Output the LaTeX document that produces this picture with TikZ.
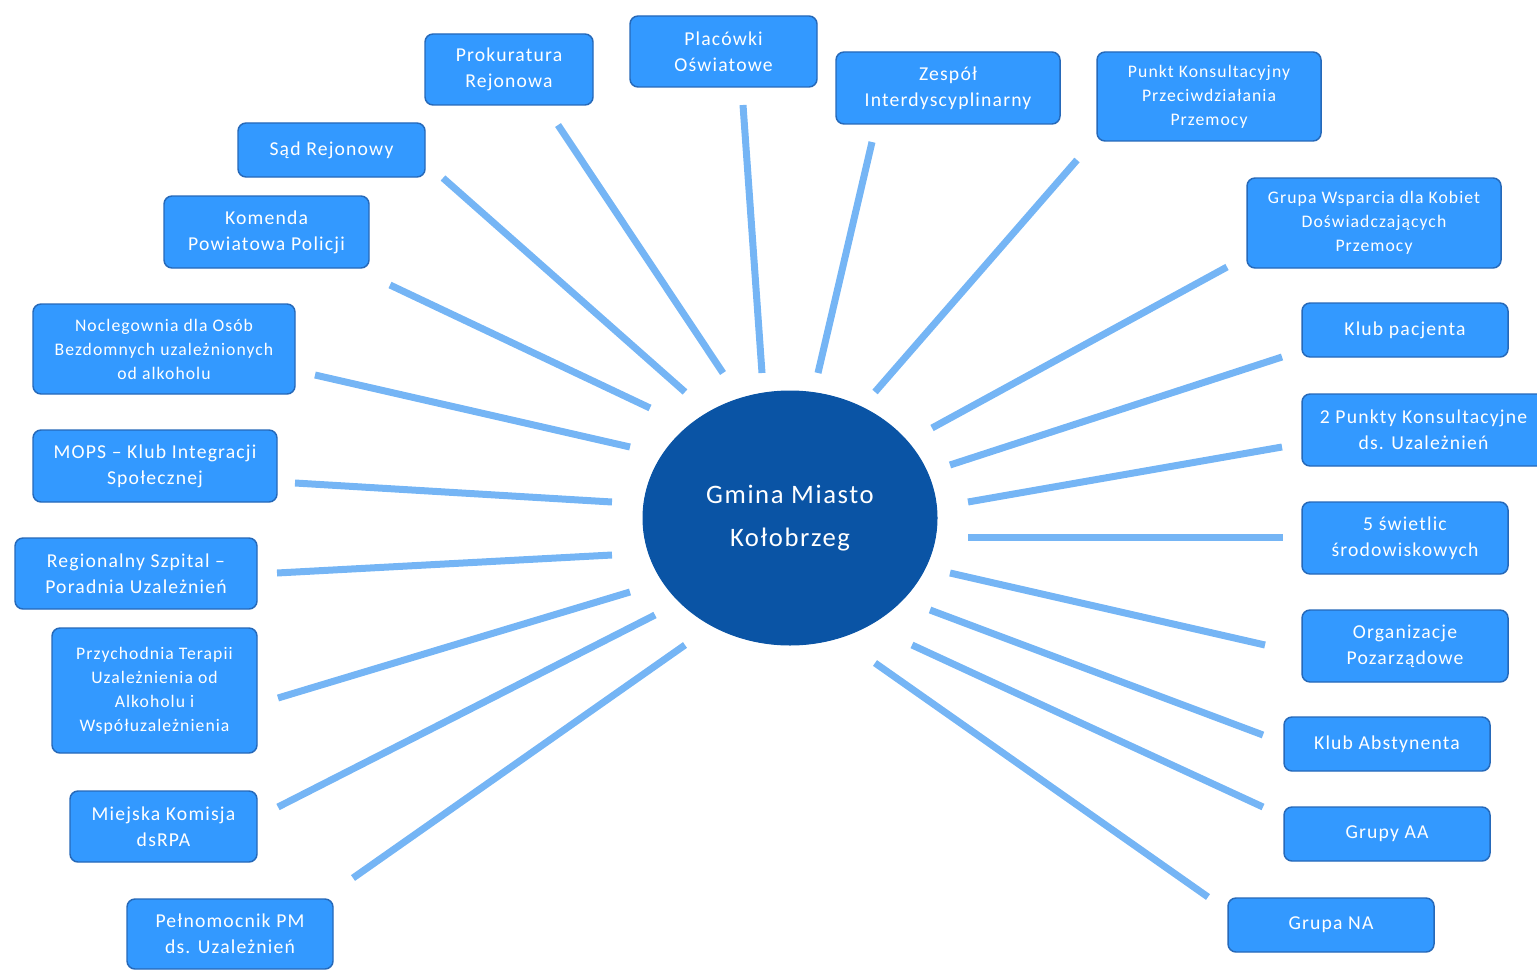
\documentclass[tikz,border=0pt]{standalone}
\usepackage{fontspec}
\setmainfont{Carlito}[LetterSpace=6]
\usetikzlibrary{shapes.geometric}

\definecolor{boxfill}{RGB}{51,153,255}
\definecolor{boxline}{RGB}{38,105,185}
\definecolor{hubfill}{RGB}{10,84,165}
\definecolor{spokeblue}{RGB}{117,181,245}

\tikzset{every picture/.style={line width=0.75pt}}
\tikzset{
  orgbox/.style={draw=boxline, fill=boxfill, rounded corners=6pt, line width=1.1pt,
    text=white, inner sep=0pt, align=center, font=\fontsize{14.75}{19.5}\selectfont},
  smallbox/.style={orgbox, font=\fontsize{13.25}{18}\selectfont},
  hub/.style={ellipse, fill=hubfill, draw=hubfill, text=white, inner sep=0pt,
    align=center, font=\fontsize{20}{32}\selectfont},
  spoke/.style={draw=spokeblue, line width=5.25pt}
}

\begin{document}
\begin{tikzpicture}[x=0.75pt,y=0.75pt,yscale=-1,xscale=1]
\useasboundingbox (0,0) rectangle (1537,970);
\clip (0,0) rectangle (1537,970);

%Shape: Ellipse [id:hub]
\node [hub, minimum width=220.5pt, minimum height=190.5pt] (gmina) at (790,518) {Gmina Miasto\\Kołobrzeg};

%Shape: Rectangle [id:left column]
\node [orgbox, minimum width=140.25pt, minimum height=40.5pt] (sad) at (331.5,150) {Sąd Rejonowy};
\node [orgbox, minimum width=153.75pt, minimum height=54pt] (komenda) at (266.5,232) {Komenda\\Powiatowa Policji};
\node [smallbox, minimum width=196.5pt, minimum height=67.5pt] (nocleg) at (164,349) {Noclegownia dla Osób\\Bezdomnych uzależnionych\\od alkoholu};
\node [orgbox, minimum width=183pt, minimum height=54pt] (mops) at (155,466) {MOPS – Klub Integracji\\Społecznej};
\node [orgbox, minimum width=181.5pt, minimum height=53.25pt] (szpital) at (136,573.5) {Regionalny Szpital –\\Poradnia Uzależnień};
\node [smallbox, minimum width=153.75pt, minimum height=93.75pt] (przych) at (154.5,690.5) {Przychodnia Terapii\\Uzależnienia od\\Alkoholu i\\Współuzależnienia};
\node [orgbox, minimum width=140.25pt, minimum height=53.25pt] (komisja) at (163.5,826.5) {Miejska Komisja\\dsRPA};
\node [orgbox, minimum width=154.5pt, minimum height=52.5pt] (pelnom) at (230,934) {Pełnomocnik PM\\ds. Uzależnień};

%Shape: Rectangle [id:top row]
\node [orgbox, minimum width=126pt, minimum height=53.25pt] (prok) at (509,69.5) {Prokuratura\\Rejonowa};
\node [orgbox, minimum width=140.25pt, minimum height=53.25pt] (plac) at (723.5,51.5) {Placówki\\Oświatowe};
\node [orgbox, minimum width=168pt, minimum height=54pt] (zespol) at (948,88) {Zespół\\Interdyscyplinarny};
\node [smallbox, minimum width=168pt, minimum height=66.75pt] (punkt) at (1209,96.5) {Punkt Konsultacyjny\\Przeciwdziałania\\Przemocy};

%Shape: Rectangle [id:right column]
\node [smallbox, minimum width=190.5pt, minimum height=67.5pt] (wsparcie) at (1374,223) {Grupa Wsparcia dla Kobiet\\Doświadczających\\Przemocy};
\node [orgbox, minimum width=154.5pt, minimum height=40.5pt] (pacjent) at (1405,330) {Klub pacjenta};
\node [orgbox, minimum width=182.25pt, minimum height=54pt] (punkty) at (1423.5,430) {2 Punkty Konsultacyjne\\ds. Uzależnień};
\node [orgbox, minimum width=154.5pt, minimum height=54pt] (swietlice) at (1405,538) {5 świetlic\\środowiskowych};
\node [orgbox, minimum width=154.5pt, minimum height=54pt] (ngo) at (1405,646) {Organizacje\\Pozarządowe};
\node [orgbox, minimum width=154.5pt, minimum height=40.5pt] (abst) at (1387,744) {Klub Abstynenta};
\node [orgbox, minimum width=154.5pt, minimum height=40.5pt] (aa) at (1387,834) {Grupy AA};
\node [orgbox, minimum width=154.5pt, minimum height=40.5pt] (na) at (1331,925) {Grupa NA};

%Straight Lines [id:spokes left]
\coordinate (sad-in) at (685,392);     \coordinate (sad-out) at (443,178);
\draw [spoke] (sad-in) -- (sad-out) ;
\coordinate (komenda-in) at (650,408); \coordinate (komenda-out) at (390,285);
\draw [spoke] (komenda-in) -- (komenda-out) ;
\coordinate (nocleg-in) at (630,447);  \coordinate (nocleg-out) at (315,375);
\draw [spoke] (nocleg-in) -- (nocleg-out) ;
\coordinate (mops-in) at (612,502);    \coordinate (mops-out) at (295,483);
\draw [spoke] (mops-in) -- (mops-out) ;
\coordinate (szpital-in) at (612,555); \coordinate (szpital-out) at (277,573);
\draw [spoke] (szpital-in) -- (szpital-out) ;
\coordinate (przych-in) at (630,592);  \coordinate (przych-out) at (278,698);
\draw [spoke] (przych-in) -- (przych-out) ;
\coordinate (komisja-in) at (655,615); \coordinate (komisja-out) at (278,807);
\draw [spoke] (komisja-in) -- (komisja-out) ;
\coordinate (pelnom-in) at (685,645);  \coordinate (pelnom-out) at (353,878);
\draw [spoke] (pelnom-in) -- (pelnom-out) ;

%Straight Lines [id:spokes top]
\coordinate (prok-in) at (723,373);    \coordinate (prok-out) at (558,125);
\draw [spoke] (prok-in) -- (prok-out) ;
\coordinate (plac-in) at (762,373);    \coordinate (plac-out) at (743,105);
\draw [spoke] (plac-in) -- (plac-out) ;
\coordinate (zespol-in) at (818,373);  \coordinate (zespol-out) at (872,142);
\draw [spoke] (zespol-in) -- (zespol-out) ;
\coordinate (punkt-in) at (875,392);   \coordinate (punkt-out) at (1077,160);
\draw [spoke] (punkt-in) -- (punkt-out) ;

%Straight Lines [id:spokes right]
\coordinate (wsparcie-in) at (932,428);  \coordinate (wsparcie-out) at (1227,267);
\draw [spoke] (wsparcie-in) -- (wsparcie-out) ;
\coordinate (pacjent-in) at (950,465);   \coordinate (pacjent-out) at (1282,357);
\draw [spoke] (pacjent-in) -- (pacjent-out) ;
\coordinate (punkty-in) at (968,502);    \coordinate (punkty-out) at (1282,447);
\draw [spoke] (punkty-in) -- (punkty-out) ;
\coordinate (swietlice-in) at (968,537); \coordinate (swietlice-out) at (1283,537);
\draw [spoke] (swietlice-in) -- (swietlice-out) ;
\coordinate (ngo-in) at (950,573);       \coordinate (ngo-out) at (1265,645);
\draw [spoke] (ngo-in) -- (ngo-out) ;
\coordinate (abst-in) at (930,610);      \coordinate (abst-out) at (1263,735);
\draw [spoke] (abst-in) -- (abst-out) ;
\coordinate (aa-in) at (912,645);        \coordinate (aa-out) at (1263,807);
\draw [spoke] (aa-in) -- (aa-out) ;
\coordinate (na-in) at (875,663);        \coordinate (na-out) at (1208,897);
\draw [spoke] (na-in) -- (na-out) ;

\end{tikzpicture}
\end{document}
